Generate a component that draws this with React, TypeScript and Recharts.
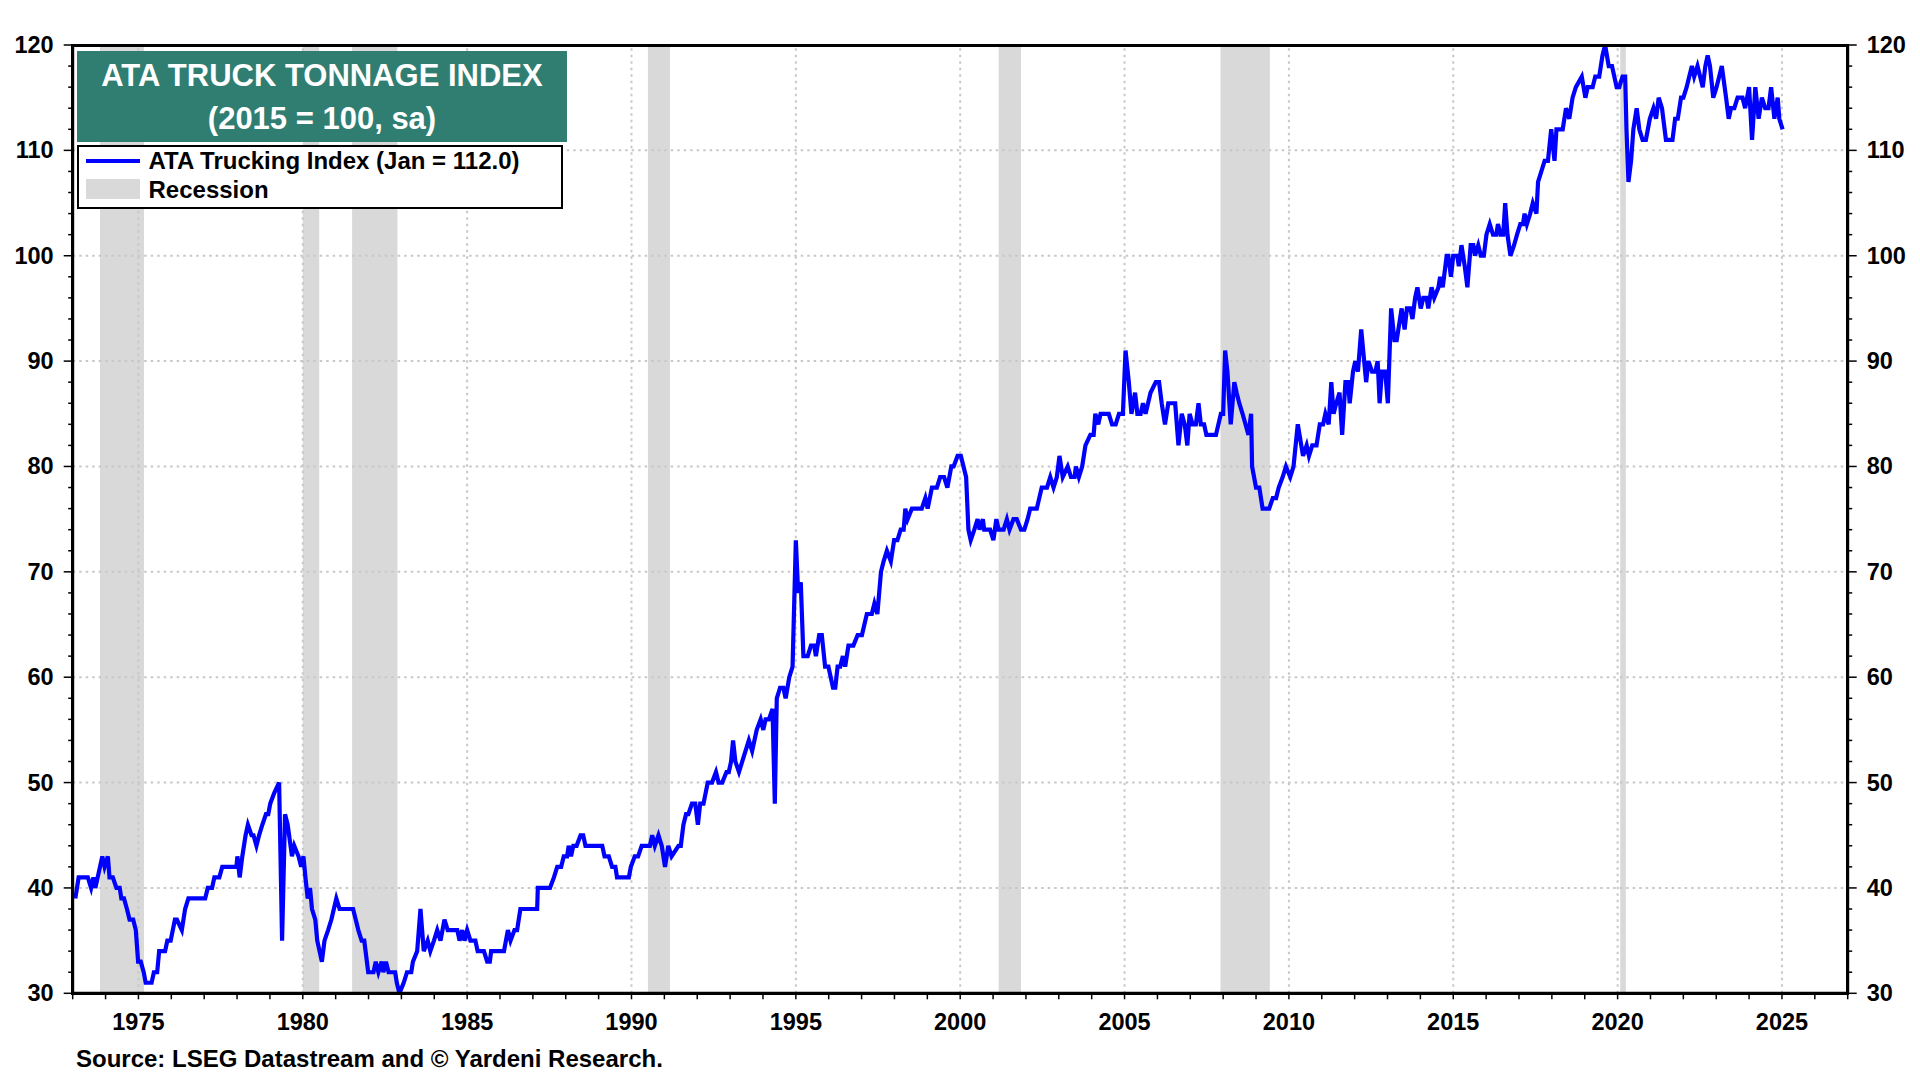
import React from "react";

import {ComposedChart, Line, XAxis, YAxis, ReferenceArea, ReferenceLine} from "recharts";

// ATA truck tonnage index, turning points [decimal year, index]
const tonnage1973to1982: [number, number][] = [
    [1973.08, 39], [1973.18, 41], [1973.46, 41], [1973.56, 40], [1973.63, 41], [1973.69, 40], [1973.76, 41],
    [1973.83, 42], [1973.9, 43], [1973.97, 42], [1974.07, 43], [1974.12, 41], [1974.22, 41], [1974.33, 40],
    [1974.43, 40], [1974.48, 39], [1974.56, 39], [1974.65, 38], [1974.73, 37], [1974.84, 37], [1974.92, 36],
    [1974.99, 33], [1975.07, 33], [1975.16, 32], [1975.22, 31], [1975.4, 31], [1975.47, 32], [1975.57, 32],
    [1975.63, 34], [1975.81, 34], [1975.88, 35], [1975.98, 35], [1976.11, 37], [1976.17, 37], [1976.32, 36],
    [1976.42, 38], [1976.52, 39], [1977.03, 39], [1977.11, 40], [1977.24, 40], [1977.31, 41], [1977.46, 41],
    [1977.55, 42], [1977.98, 42], [1978.01, 43], [1978.08, 41], [1978.16, 43], [1978.26, 45], [1978.33, 46],
    [1978.44, 45], [1978.5, 45], [1978.59, 44], [1978.67, 45], [1978.77, 46], [1978.88, 47], [1978.95, 47],
    [1979.01, 48], [1979.13, 49], [1979.28, 50], [1979.37, 35], [1979.46, 47], [1979.54, 46], [1979.67, 43],
    [1979.74, 44], [1979.87, 43], [1979.95, 42], [1980.02, 43], [1980.08, 41], [1980.15, 39], [1980.22, 40],
    [1980.28, 38], [1980.38, 37], [1980.44, 35], [1980.51, 34], [1980.58, 33], [1980.66, 35], [1980.77, 36],
    [1980.87, 37], [1981.02, 39], [1981.12, 38], [1981.53, 38], [1981.61, 37], [1981.69, 36], [1981.79, 35],
    [1981.87, 35], [1981.99, 32], [1982.15, 32], [1982.22, 33], [1982.3, 32], [1982.4, 33], [1982.45, 32],
    [1982.53, 33], [1982.61, 32], [1982.81, 32], [1982.86, 31], [1982.94, 30],
];

const tonnage1983to1994: [number, number][] = [
    [1983.07, 31], [1983.17, 32], [1983.3, 32], [1983.35, 33], [1983.48, 34], [1983.58, 38], [1983.68, 34],
    [1983.8, 35], [1983.88, 34], [1983.99, 35], [1984.09, 36], [1984.19, 35], [1984.31, 37], [1984.41, 36],
    [1984.7, 36], [1984.77, 35], [1984.85, 36], [1984.92, 35], [1985.0, 36], [1985.1, 35], [1985.25, 35],
    [1985.32, 34], [1985.51, 34], [1985.61, 33], [1985.69, 33], [1985.73, 34], [1986.12, 34], [1986.24, 36],
    [1986.32, 35], [1986.44, 36], [1986.52, 36], [1986.62, 38], [1987.13, 38], [1987.15, 40], [1987.52, 40],
    [1987.64, 41], [1987.74, 42], [1987.86, 42], [1987.94, 43], [1988.04, 43], [1988.09, 44], [1988.16, 43],
    [1988.23, 44], [1988.33, 44], [1988.45, 45], [1988.53, 45], [1988.6, 44], [1989.11, 44], [1989.18, 43],
    [1989.31, 43], [1989.41, 42], [1989.51, 42], [1989.56, 41], [1989.92, 41], [1989.98, 42], [1990.1, 43],
    [1990.2, 43], [1990.31, 44], [1990.56, 44], [1990.63, 45], [1990.71, 44], [1990.82, 45], [1990.92, 44],
    [1991.02, 42], [1991.12, 44], [1991.22, 43], [1991.43, 44], [1991.5, 44], [1991.58, 46], [1991.66, 47],
    [1991.73, 47], [1991.84, 48], [1991.94, 48], [1992.02, 46], [1992.09, 48], [1992.19, 48], [1992.32, 50],
    [1992.45, 50], [1992.57, 51], [1992.65, 50], [1992.76, 50], [1992.89, 51], [1992.96, 51], [1993.03, 52],
    [1993.09, 54], [1993.16, 52], [1993.27, 51], [1993.37, 52], [1993.47, 53], [1993.57, 54], [1993.67, 53],
    [1993.81, 55], [1993.93, 56], [1994.01, 55], [1994.08, 56], [1994.18, 56], [1994.29, 57], [1994.36, 48],
    [1994.42, 58], [1994.52, 59], [1994.62, 59], [1994.69, 58], [1994.8, 60], [1994.9, 61],
];

const tonnage1995to2004: [number, number][] = [
    [1995.0, 73], [1995.07, 68], [1995.15, 69], [1995.23, 62], [1995.36, 62], [1995.46, 63], [1995.56, 63],
    [1995.61, 62], [1995.71, 64], [1995.79, 64], [1995.89, 61], [1995.99, 61], [1996.13, 59], [1996.2, 59],
    [1996.27, 61], [1996.35, 61], [1996.43, 62], [1996.5, 61], [1996.6, 63], [1996.75, 63], [1996.88, 64],
    [1997.01, 64], [1997.16, 66], [1997.31, 66], [1997.39, 67], [1997.48, 66], [1997.59, 70], [1997.67, 71],
    [1997.77, 72], [1997.89, 71], [1997.99, 73], [1998.09, 73], [1998.19, 74], [1998.28, 74], [1998.33, 76],
    [1998.4, 75], [1998.53, 76], [1998.83, 76], [1998.94, 77], [1999.01, 76], [1999.14, 78], [1999.29, 78],
    [1999.39, 79], [1999.51, 79], [1999.61, 78], [1999.73, 80], [1999.8, 80], [1999.92, 81], [2000.02, 81],
    [2000.18, 79], [2000.25, 74], [2000.32, 73], [2000.43, 74], [2000.53, 75], [2000.59, 74], [2000.69, 75],
    [2000.73, 74], [2000.91, 74], [2001.01, 73], [2001.1, 75], [2001.17, 74], [2001.32, 74], [2001.42, 75],
    [2001.5, 74], [2001.62, 75], [2001.72, 75], [2001.85, 74], [2001.95, 74], [2002.05, 75], [2002.13, 76],
    [2002.33, 76], [2002.48, 78], [2002.64, 78], [2002.74, 79], [2002.84, 78], [2002.94, 79], [2003.02, 81],
    [2003.12, 79], [2003.27, 80], [2003.37, 79], [2003.48, 79], [2003.52, 80], [2003.61, 79], [2003.71, 80],
    [2003.81, 82], [2003.96, 83], [2004.06, 83], [2004.11, 85], [2004.2, 84], [2004.27, 85], [2004.52, 85],
    [2004.62, 84], [2004.73, 84], [2004.83, 85], [2004.95, 85],
];

const tonnage2005to2014: [number, number][] = [
    [2005.03, 91], [2005.13, 88], [2005.21, 85], [2005.32, 87], [2005.39, 85], [2005.49, 85], [2005.56, 86],
    [2005.64, 85], [2005.79, 87], [2005.95, 88], [2006.05, 88], [2006.13, 86], [2006.23, 84], [2006.33, 86],
    [2006.54, 86], [2006.64, 82], [2006.74, 85], [2006.83, 84], [2006.91, 82], [2006.98, 85], [2007.07, 84],
    [2007.17, 84], [2007.25, 86], [2007.32, 84], [2007.42, 84], [2007.49, 83], [2007.78, 83], [2007.93, 85],
    [2008.0, 85], [2008.06, 91], [2008.13, 89], [2008.23, 84], [2008.34, 88], [2008.41, 87], [2008.49, 86],
    [2008.59, 85], [2008.77, 83], [2008.85, 85], [2008.88, 80], [2009.0, 78], [2009.1, 78], [2009.15, 77],
    [2009.2, 76], [2009.4, 76], [2009.51, 77], [2009.61, 77], [2009.69, 78], [2009.81, 79], [2009.91, 80],
    [2010.04, 79], [2010.14, 80], [2010.27, 84], [2010.43, 81], [2010.54, 82], [2010.61, 81], [2010.71, 82],
    [2010.84, 82], [2010.94, 84], [2011.04, 84], [2011.11, 85], [2011.21, 84], [2011.29, 88], [2011.36, 85],
    [2011.44, 86], [2011.54, 87], [2011.62, 83], [2011.72, 88], [2011.8, 88], [2011.85, 86], [2011.95, 89],
    [2012.02, 90], [2012.1, 89], [2012.2, 93], [2012.35, 88], [2012.42, 90], [2012.53, 89], [2012.63, 89],
    [2012.7, 90], [2012.76, 86], [2012.83, 89], [2012.93, 89], [2013.01, 86], [2013.11, 95], [2013.21, 92],
    [2013.28, 92], [2013.38, 94], [2013.43, 95], [2013.52, 93], [2013.59, 95], [2013.69, 95], [2013.76, 94],
    [2013.84, 96], [2013.91, 97], [2014.01, 95], [2014.09, 96], [2014.19, 96], [2014.24, 95], [2014.34, 97],
    [2014.42, 96], [2014.55, 97], [2014.6, 98], [2014.68, 97], [2014.8, 100], [2014.85, 100], [2014.93, 98],
];

const tonnage2015to2025: [number, number][] = [
    [2015.0, 100], [2015.12, 100], [2015.17, 99], [2015.25, 101], [2015.35, 99], [2015.43, 97], [2015.53, 101],
    [2015.61, 101], [2015.66, 100], [2015.76, 101], [2015.84, 100], [2015.93, 100], [2016.01, 102], [2016.11, 103],
    [2016.21, 102], [2016.31, 102], [2016.36, 103], [2016.44, 102], [2016.52, 102], [2016.58, 105], [2016.65, 102],
    [2016.74, 100], [2016.85, 101], [2016.94, 102], [2017.04, 103], [2017.12, 103], [2017.17, 104], [2017.24, 103],
    [2017.34, 104], [2017.42, 105], [2017.53, 104], [2017.58, 107], [2017.68, 108], [2017.78, 109], [2017.88, 109],
    [2017.98, 112], [2018.08, 109], [2018.14, 112], [2018.33, 112], [2018.43, 114], [2018.53, 113], [2018.63, 115],
    [2018.73, 116], [2018.91, 117], [2019.02, 115], [2019.09, 116], [2019.24, 116], [2019.32, 117], [2019.44, 117],
    [2019.54, 119], [2019.62, 120], [2019.73, 118], [2019.83, 118], [2019.9, 117], [2019.97, 116], [2020.05, 116],
    [2020.15, 117], [2020.23, 117], [2020.27, 112], [2020.33, 107], [2020.41, 109], [2020.48, 112], [2020.58, 114],
    [2020.66, 112], [2020.76, 111], [2020.86, 111], [2020.98, 113], [2021.09, 114], [2021.17, 113], [2021.25, 115],
    [2021.35, 114], [2021.47, 111], [2021.67, 111], [2021.75, 113], [2021.83, 113], [2021.93, 115], [2022.0, 115],
    [2022.1, 116], [2022.18, 117], [2022.26, 118], [2022.33, 117], [2022.43, 118], [2022.51, 117], [2022.59, 116],
    [2022.67, 118], [2022.74, 119], [2022.81, 118], [2022.91, 115], [2023.01, 116], [2023.17, 118], [2023.3, 115],
    [2023.38, 113], [2023.45, 114], [2023.55, 114], [2023.65, 115], [2023.8, 115], [2023.88, 114], [2024.0, 116],
    [2024.09, 111], [2024.19, 116], [2024.29, 113], [2024.39, 115], [2024.49, 114], [2024.59, 114], [2024.67, 116],
    [2024.77, 113], [2024.87, 115], [2024.92, 113], [2025.02, 112],
];

// NBER recessions [start, end]
const recessions: [number, number][] = [
    [1973.83, 1975.17], [1980.0, 1980.5], [1981.5, 1982.88], [1990.5, 1991.17],
    [2001.17, 2001.85], [2007.92, 2009.42], [2020.08, 2020.25],
];

const yearLabels = [1975, 1980, 1985, 1990, 1995, 2000, 2005, 2010, 2015, 2020, 2025];
const valueLabels = [30, 40, 50, 60, 70, 80, 90, 100, 110, 120];
const yearTicks = Array.from({length: 55}, (_, i) => 1973 + i);
const valueTicks = Array.from({length: 46}, (_, i) => 30 + i * 2);

const tonnage = [
    ...tonnage1973to1982, ...tonnage1983to1994, ...tonnage1995to2004,
    ...tonnage2005to2014, ...tonnage2015to2025,
].map(([date, value]) => ({date, value}));

const FONT = '"Liberation Sans", Arial, Helvetica, sans-serif';
const BLUE = "#0000ff";
const GRID = "#c8c8c8";
const TICK_FONT = 23.5;

// plot area edges in page pixels
const PLOT = {left: 72.7, right: 1847.7, top: 45, bottom: 993.3};

const BottomTick = ({x, y, payload}: any) => (
    <g>
        <line x1={x} x2={x} y1={y + 1} y2={y + 6} stroke="#000" strokeWidth={1.5}/>
        {yearLabels.includes(payload.value) && (
            <text x={x} y={y + 29} textAnchor="middle" dominantBaseline="central"
                  fontFamily={FONT} fontWeight="bold" fontSize={TICK_FONT} fill="#000">
                {payload.value}
            </text>
        )}
    </g>
);

const LeftTick = ({x, y, payload}: any) => {
    const major = valueLabels.includes(payload.value);
    return (
        <g>
            <line x1={x - (major ? 9 : 4.5)} x2={x} y1={y} y2={y} stroke="#000" strokeWidth={1.5}/>
            {major && (
                <text x={x - 19} y={y} textAnchor="end" dominantBaseline="central"
                      fontFamily={FONT} fontWeight="bold" fontSize={TICK_FONT} fill="#000">
                    {payload.value}
                </text>
            )}
        </g>
    );
};

const RightTick = ({x, y, payload}: any) => {
    const major = valueLabels.includes(payload.value);
    return (
        <g>
            <line x1={x} x2={x + (major ? 9 : 4.5)} y1={y} y2={y} stroke="#000" strokeWidth={1.5}/>
            {major && (
                <text x={x + 19} y={y} textAnchor="start" dominantBaseline="central"
                      fontFamily={FONT} fontWeight="bold" fontSize={TICK_FONT} fill="#000">
                    {payload.value}
                </text>
            )}
        </g>
    );
};

const axisLine = {stroke: "#000", strokeWidth: 3};

const App = (): JSX.Element => {
    return (
        <div style={{position: "absolute", left: 0, top: 0, width: 1920, height: 1080, background: "#fff", fontFamily: FONT}}>
            <ComposedChart width={1920} height={1080} data={tonnage}
                           margin={{top: PLOT.top, right: 1920 - PLOT.right - 60, bottom: 1080 - PLOT.bottom - 40, left: PLOT.left - 60}}>
                <XAxis xAxisId="bottom" dataKey="date" type="number" domain={[1973, 2027]}
                       allowDataOverflow ticks={yearTicks} interval={0} height={40}
                       tickSize={0} tickMargin={0} tickLine={false} axisLine={axisLine}
                       tick={(props: any) => <BottomTick {...props}/>}/>
                <YAxis yAxisId="left" type="number" domain={[30, 120]} allowDataOverflow
                       ticks={valueTicks} interval={0} width={60}
                       tickSize={0} tickMargin={0} tickLine={false} axisLine={axisLine}
                       tick={(props: any) => <LeftTick {...props}/>}/>
                <YAxis yAxisId="right" orientation="right" type="number" domain={[30, 120]} allowDataOverflow
                       ticks={valueTicks} interval={0} width={60}
                       tickSize={0} tickMargin={0} tickLine={false} axisLine={axisLine}
                       tick={(props: any) => <RightTick {...props}/>}/>

                {recessions.map(([start, end], index) => (
                    <ReferenceArea key={`rec-${index}`} xAxisId="bottom" yAxisId="left"
                                   x1={start} x2={end} y1={30} y2={120}
                                   fill="#d9d9d9" fillOpacity={1} stroke="none"/>
                ))}
                {yearLabels.map((year) => (
                    <ReferenceLine key={`vx-${year}`} xAxisId="bottom" yAxisId="left" x={year}
                                   stroke={GRID} strokeWidth={2} strokeDasharray="2.5 4"/>
                ))}
                {valueLabels.filter((v) => v > 30 && v < 120).map((v) => (
                    <ReferenceLine key={`hy-${v}`} xAxisId="bottom" yAxisId="left" y={v}
                                   stroke={GRID} strokeWidth={2} strokeDasharray="2.5 4"/>
                ))}

                <Line xAxisId="bottom" yAxisId="left" type="linear" dataKey="value"
                      stroke={BLUE} strokeWidth={4.2} dot={false} activeDot={false}
                      isAnimationActive={false}/>
            </ComposedChart>

            {/* Thick frame round the plot area */}
            <div style={{
                position: "absolute", left: PLOT.left - 1.5, top: PLOT.top - 1.5,
                width: PLOT.right - PLOT.left + 3, height: PLOT.bottom - PLOT.top + 3,
                border: "3.5px solid #000", boxSizing: "border-box", pointerEvents: "none",
            }}/>

            {/* Title box */}
            <div style={{
                position: "absolute", left: 77, top: 51, width: 490, height: 91,
                background: "#2f7e71", color: "#fff", fontWeight: "bold", fontSize: 31,
                textAlign: "center", lineHeight: "43px", paddingTop: 3, boxSizing: "border-box",
                whiteSpace: "nowrap",
            }}>
                <div>ATA TRUCK TONNAGE INDEX</div>
                <div>(2015 = 100, sa)</div>
            </div>

            {/* Legend */}
            <div style={{
                position: "absolute", left: 77, top: 145, width: 486, height: 64,
                background: "#fff", border: "2.5px solid #000", boxSizing: "border-box",
                fontWeight: "bold", fontSize: 24, color: "#000", whiteSpace: "nowrap",
            }}>
                <div style={{position: "absolute", left: 6.5, top: 11.5, width: 54, height: 4, background: BLUE}}/>
                <div style={{position: "absolute", left: 69.5, top: 0.5, lineHeight: "26px"}}>
                    ATA Trucking Index (Jan = 112.0)
                </div>
                <div style={{position: "absolute", left: 6.5, top: 31.5, width: 54, height: 20, background: "#d9d9d9"}}/>
                <div style={{position: "absolute", left: 69.5, top: 29.5, lineHeight: "26px"}}>
                    Recession
                </div>
            </div>

            {/* Source */}
            <div style={{
                position: "absolute", left: 76, top: 1046, fontWeight: "bold", fontSize: 24,
                lineHeight: "26px", color: "#000", whiteSpace: "nowrap",
            }}>
                Source: LSEG Datastream and © Yardeni Research.
            </div>
        </div>
    );
};

export default App;
